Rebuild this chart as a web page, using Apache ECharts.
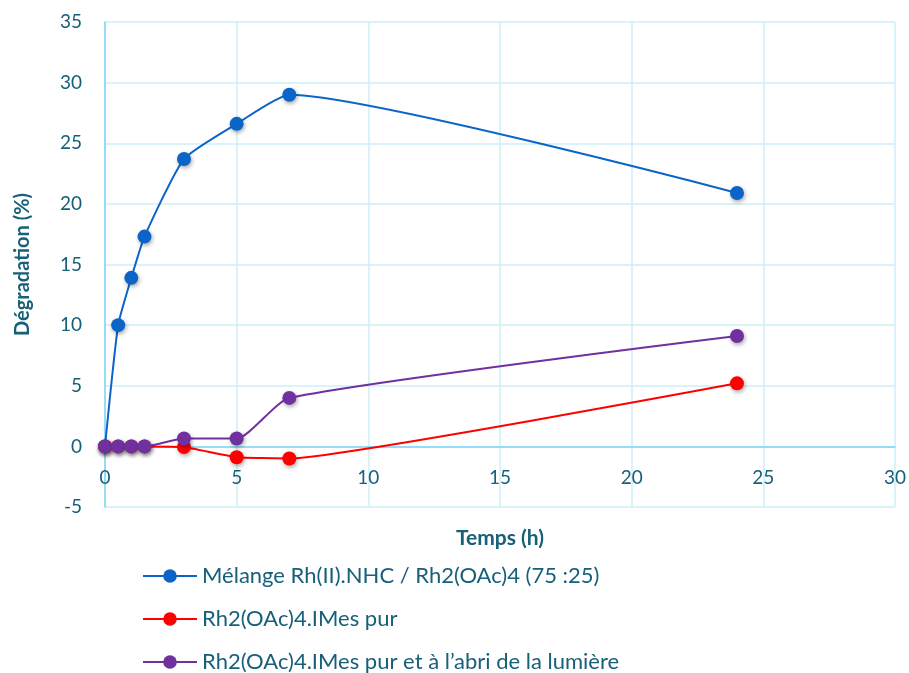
<!DOCTYPE html>
<html><head><meta charset="utf-8">
<script src="https://cdn.jsdelivr.net/npm/echarts@6/dist/echarts.min.js"></script>
<style>html,body{margin:0;padding:0;background:#fff}#c{width:909px;height:673px}</style>
</head><body><div id="c"></div>
<script>
const times = [0, 0.5, 1, 1.5, 3, 5, 7, 24];
const seriesNames = [
  "Mélange Rh(II).NHC / Rh2(OAc)4 (75 :25)",
  "Rh2(OAc)4.IMes pur",
  "Rh2(OAc)4.IMes pur et à l’abri de la lumière"
];
const blueValues = [0, 10.0, 13.9, 17.3, 23.7, 26.6, 29.0, 20.9];
const redValues = [0, 0, 0, 0, -0.05, -0.9, -1.0, 5.2];
const purpleValues = [0, 0, 0, 0, 0.65, 0.65, 4.0, 9.1];
const xTicks = [0, 5, 10, 15, 20, 25, 30];
const yTicks = [-5, 0, 5, 10, 15, 20, 25, 30, 35];
const xTitle = "Temps (h)";
const yTitle = "Dégradation (%)";

const txt = '#17607A';
const font = 'Lato, "Open Sans", sans-serif';
const colors = ['#0B64C8', '#FF0000', '#7030A0'];
const smoothing = [0.17, 0.1, 0.2];
const allValues = [blueValues, redValues, purpleValues];

const chart = echarts.init(document.getElementById('c'), null, {renderer: 'canvas'});
chart.setOption({
  animation: false,
  color: colors,
  grid: {left: 105, right: 14, top: 22, bottom: 166, containLabel: false},
  xAxis: {
    type: 'value', min: xTicks[0], max: xTicks[xTicks.length - 1], interval: 5,
    name: xTitle, nameLocation: 'middle', nameGap: 21,
    nameTextStyle: {color: txt, fontFamily: font, fontWeight: 'bold', fontSize: 21},
    axisLine: {show: true, onZero: true, lineStyle: {color: '#7FD6F2', width: 1.5}},
    axisTick: {show: false},
    axisLabel: {color: txt, fontFamily: font, fontSize: 19, inside: true, margin: 20},
    splitLine: {show: true, lineStyle: {color: '#CDEFF8', width: 1.5}}
  },
  yAxis: {
    type: 'value', min: yTicks[0], max: yTicks[yTicks.length - 1], interval: 5,
    name: yTitle, nameLocation: 'middle', nameGap: 72, nameRotate: 90,
    nameTextStyle: {color: txt, fontFamily: font, fontWeight: 'bold', fontSize: 20},
    axisLine: {show: true, onZero: false, lineStyle: {color: '#7FD6F2', width: 1.5}},
    axisTick: {show: false},
    axisLabel: {color: txt, fontFamily: font, fontSize: 19, margin: 23},
    splitLine: {show: true, lineStyle: {color: '#CDEFF8', width: 1.5}}
  },
  legend: {
    orient: 'vertical', left: 137, top: 560, height: 112, itemGap: 21,
    itemWidth: 54, itemHeight: 17,
    textStyle: {color: txt, fontFamily: font, fontSize: 22},
    data: seriesNames
  },
  series: seriesNames.map((n, i) => ({
    name: n, type: 'line', smooth: smoothing[i],
    data: times.map((t, j) => [t, allValues[i][j]]),
    symbol: 'circle', symbolSize: 14,
    lineStyle: {width: 2, color: colors[i]},
    itemStyle: {color: colors[i], shadowColor: 'rgba(0,0,0,0.35)', shadowBlur: 4, shadowOffsetX: 1, shadowOffsetY: 2},
    z: 3 + (i === 2 ? 1 : 0)
  }))
});
</script></body></html>
